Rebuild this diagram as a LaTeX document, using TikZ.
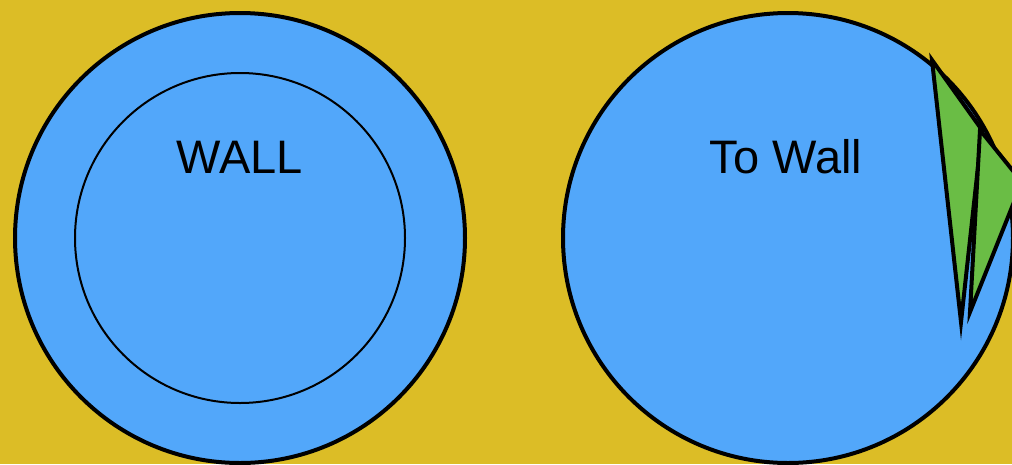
\documentclass[tikz,border=0pt]{standalone}
\usepackage{fontspec}
\setmainfont{Liberation Sans}
\definecolor{bg}{HTML}{DCBD26}
\definecolor{disc}{HTML}{52A7FA}
\definecolor{leaf}{HTML}{6ABD45}
\begin{document}
\begin{tikzpicture}[x=1pt,y=-1pt,
  outer/.style={draw=black,line width=4pt,fill=disc},
  inner/.style={draw=black,line width=2pt},
  tri/.style={draw=black,line width=4pt,fill=leaf,line join=miter},
  lbl/.style={font=\fontsize{47}{50}\selectfont,anchor=base,inner sep=0pt}]
\useasboundingbox (0,0) rectangle (1012,464);
\fill[bg] (0,0) rectangle (1012,464);
\begin{scope}
\clip (0,0) rectangle (1012,464);
\draw[outer] (240,238) circle[radius=225];
\draw[inner] (240,238) circle[radius=165];
\node[lbl] (wall) at (240,173) {WALL};
\draw[outer] (788,238) circle[radius=225];
\node[lbl] (towall) at (786,173) {To Wall};
\draw[tri] (932,60) -- (982,130) -- (961,322) -- cycle;
\draw[tri] (980,130) -- (1022,182) -- (970,312) -- cycle;
\end{scope}
\end{tikzpicture}
\end{document}
